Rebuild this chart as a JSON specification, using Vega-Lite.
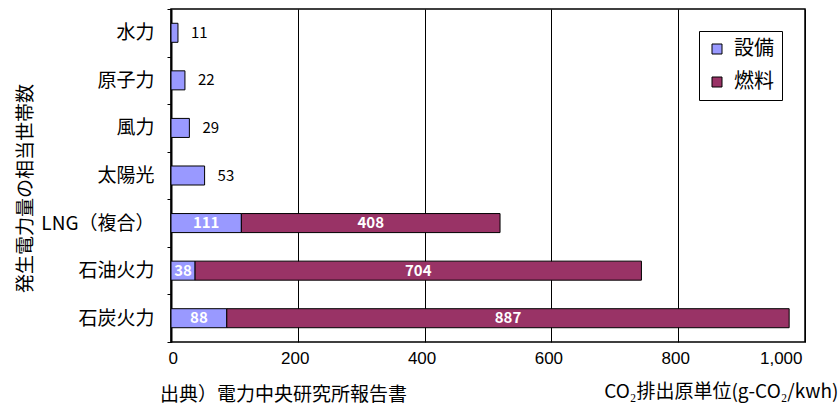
{
  "$schema": "https://vega.github.io/schema/vega-lite/v6.json",
  "width": 634,
  "height": 333,
  "autosize": {"type": "none"},
  "padding": {"left": 171, "top": 9, "right": 33, "bottom": 64},
  "background": "white",
  "config": {
    "view": {"stroke": "black", "strokeWidth": 1.5},
    "font": "Noto Sans CJK JP"
  },
  "title": {
    "text": "出典）電力中央研究所報告書",
    "orient": "bottom",
    "anchor": "start",
    "frame": "group",
    "dx": -11,
    "offset": -15,
    "fontSize": 19,
    "fontWeight": "normal",
    "font": "Noto Sans CJK JP",
    "color": "black"
  },
  "data": {
    "values": [
      {"source": "水力", "type": "設備", "value": 11},
      {"source": "原子力", "type": "設備", "value": 22},
      {"source": "風力", "type": "設備", "value": 29},
      {"source": "太陽光", "type": "設備", "value": 53},
      {"source": "LNG（複合）", "type": "設備", "value": 111},
      {"source": "LNG（複合）", "type": "燃料", "value": 408},
      {"source": "石油火力", "type": "設備", "value": 38},
      {"source": "石油火力", "type": "燃料", "value": 704},
      {"source": "石炭火力", "type": "設備", "value": 88},
      {"source": "石炭火力", "type": "燃料", "value": 887}
    ]
  },
  "layer": [
    {
      "mark": {"type": "bar", "stroke": "black", "strokeWidth": 1, "height": {"band": 0.4}},
      "encoding": {
        "y": {
          "field": "source",
          "type": "nominal",
          "sort": null,
          "scale": {
            "domain": ["水力", "原子力", "風力", "太陽光", "LNG（複合）", "石油火力", "石炭火力"],
            "paddingInner": 0,
            "paddingOuter": 0
          },
          "axis": {
            "title": "発生電力量の相当世帯数",
            "titleX": -146,
            "titleY": 179,
            "titleBaseline": "middle",
            "titleFontSize": 19,
            "titleFontWeight": "normal",
            "titleColor": "black",
            "titleFont": "Noto Sans CJK JP",
            "labelFontSize": 19,
            "labelColor": "black",
            "labelFont": "Noto Sans CJK JP",
            "labelPadding": 13,
            "tickSize": 4,
            "tickColor": "black",
            "tickBand": "extent",
            "domainColor": "black",
            "domainWidth": 2,
            "grid": false
          }
        },
        "x": {
          "field": "value",
          "type": "quantitative",
          "stack": "zero",
          "scale": {"domain": [0, 1000], "nice": false},
          "axis": {
            "title": "CO₂排出原単位(g-CO₂/kwh)",
            "titleX": 667,
            "titleY": 49,
            "titleAlign": "right",
            "titleBaseline": "middle",
            "titleFontSize": 19,
            "titleFontWeight": "normal",
            "titleColor": "black",
            "titleFont": "Noto Sans CJK JP",
            "grid": true,
            "gridColor": "black",
            "gridWidth": 1,
            "gridOpacity": 1,
            "ticks": false,
            "tickSize": 0,
            "domain": false,
            "values": [0, 200, 400, 600, 800, 1000],
            "format": ",.0f",
            "labelFontSize": 17,
            "labelFont": "Liberation Sans",
            "labelColor": "black",
            "labelPadding": 8,
            "labelOffset": -3
          }
        },
        "color": {
          "field": "type",
          "type": "nominal",
          "scale": {"domain": ["設備", "燃料"], "range": ["#9999FF", "#993366"]},
          "legend": {
            "title": null,
            "orient": "none",
            "legendX": 528,
            "legendY": 22,
            "strokeColor": "black",
            "fillColor": "white",
            "padding": 8,
            "symbolType": "square",
            "symbolSize": 100,
            "symbolStrokeColor": "black",
            "symbolStrokeWidth": 1,
            "symbolOpacity": 1,
            "labelFontSize": 20,
            "labelColor": "black",
            "labelFont": "Noto Sans CJK JP",
            "labelOffset": 7,
            "rowPadding": 13
          }
        },
        "order": {"field": "type", "sort": "descending"}
      }
    },
    {
      "transform": [
        {"filter": {"field": "source", "oneOf": ["LNG（複合）", "石油火力", "石炭火力"]}},
        {"stack": "value", "groupby": ["source"], "sort": [{"field": "type", "order": "descending"}], "as": ["v0", "v1"]},
        {"fold": ["v0", "v1"], "as": ["edge", "pos"]},
        {"aggregate": [{"op": "mean", "field": "pos", "as": "mid"}], "groupby": ["source", "type", "value"]}
      ],
      "mark": {"type": "text", "color": "white", "fontWeight": "bold", "fontSize": 15, "font": "Noto Sans CJK JP"},
      "encoding": {
        "y": {"field": "source", "type": "nominal", "sort": null},
        "x": {"field": "mid", "type": "quantitative"},
        "text": {"field": "value", "type": "quantitative"}
      }
    },
    {
      "transform": [
        {"filter": {"field": "source", "oneOf": ["水力", "原子力", "風力", "太陽光"]}}
      ],
      "mark": {"type": "text", "align": "left", "dx": 13, "fontSize": 15, "color": "black", "font": "Noto Sans CJK JP"},
      "encoding": {
        "y": {"field": "source", "type": "nominal", "sort": null},
        "x": {"field": "value", "type": "quantitative"},
        "text": {"field": "value", "type": "quantitative"}
      }
    }
  ]
}
